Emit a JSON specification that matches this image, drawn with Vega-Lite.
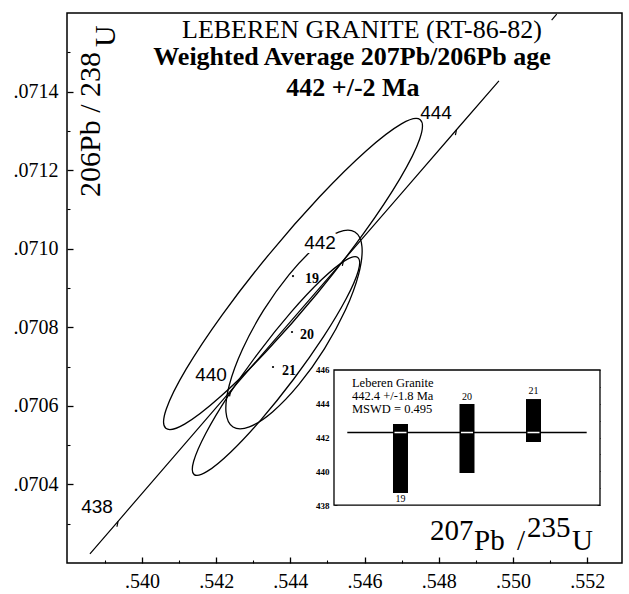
{
  "$schema": "https://vega.github.io/schema/vega-lite/v6.json",
  "autosize": "none",
  "padding": {"left": 67, "top": 13, "right": 7, "bottom": 31},
  "width": 555,
  "height": 550,
  "background": "white",
  "config": {
    "view": {"stroke": "black", "strokeWidth": 1.5},
    "font": "Liberation Serif",
    "scale": {"continuousPadding": 0},
    "axis": {"grid": false, "domain": false, "labelColor": "black", "tickColor": "black", "labelFont": "Liberation Serif"}
  },
  "layer": [
    {
      "data": {"values": [
        {"e":19,"k":0,"x":0.547501,"y":0.0713284},{"e":19,"k":1,"x":0.547487,"y":0.0712793},{"e":19,"k":2,"x":0.546952,"y":0.0711779},{"e":19,"k":3,"x":0.545980,"y":0.0710396},
        {"e":19,"k":4,"x":0.544717,"y":0.0708854},{"e":19,"k":5,"x":0.543355,"y":0.0707389},{"e":19,"k":6,"x":0.542103,"y":0.0706224},{"e":19,"k":7,"x":0.541150,"y":0.0705535},
        {"e":19,"k":8,"x":0.540643,"y":0.0705428},{"e":19,"k":9,"x":0.540657,"y":0.0705919},{"e":19,"k":10,"x":0.541191,"y":0.0706933},{"e":19,"k":11,"x":0.542164,"y":0.0708317},
        {"e":19,"k":12,"x":0.543427,"y":0.0709858},{"e":19,"k":13,"x":0.544789,"y":0.0711323},{"e":19,"k":14,"x":0.546041,"y":0.0712489},{"e":19,"k":15,"x":0.546994,"y":0.0713178},
        {"e":20,"k":0,"x":0.545741,"y":0.0710426},{"e":20,"k":1,"x":0.545931,"y":0.0710051},{"e":20,"k":2,"x":0.545842,"y":0.0709355},{"e":20,"k":3,"x":0.545488,"y":0.0708445},
        {"e":20,"k":4,"x":0.544922,"y":0.0707458},{"e":20,"k":5,"x":0.544231,"y":0.0706545},{"e":20,"k":6,"x":0.543519,"y":0.0705845},{"e":20,"k":7,"x":0.542896,"y":0.0705464},
        {"e":20,"k":8,"x":0.542456,"y":0.0705461},{"e":20,"k":9,"x":0.542266,"y":0.0705836},{"e":20,"k":10,"x":0.542355,"y":0.0706531},{"e":20,"k":11,"x":0.542710,"y":0.0707442},
        {"e":20,"k":12,"x":0.543276,"y":0.0708429},{"e":20,"k":13,"x":0.543967,"y":0.0709342},{"e":20,"k":14,"x":0.544678,"y":0.0710042},{"e":20,"k":15,"x":0.545302,"y":0.0710423},
        {"e":21,"k":0,"x":0.545820,"y":0.0709779},{"e":21,"k":1,"x":0.545833,"y":0.0709440},{"e":21,"k":2,"x":0.545508,"y":0.0708731},{"e":21,"k":3,"x":0.544895,"y":0.0707761},
        {"e":21,"k":4,"x":0.544087,"y":0.0706677},{"e":21,"k":5,"x":0.543207,"y":0.0705645},{"e":21,"k":6,"x":0.542389,"y":0.0704821},{"e":21,"k":7,"x":0.541757,"y":0.0704331},
        {"e":21,"k":8,"x":0.541408,"y":0.0704250},{"e":21,"k":9,"x":0.541394,"y":0.0704589},{"e":21,"k":10,"x":0.541719,"y":0.0705298},{"e":21,"k":11,"x":0.542332,"y":0.0706268},
        {"e":21,"k":12,"x":0.543140,"y":0.0707351},{"e":21,"k":13,"x":0.544020,"y":0.0708384},{"e":21,"k":14,"x":0.544839,"y":0.0709208},{"e":21,"k":15,"x":0.545471,"y":0.0709698}
      ]},
      "mark": {"type": "line", "interpolate": "cardinal-closed", "color": "black", "strokeWidth": 1.3},
      "encoding": {
        "x": {"field": "x", "type": "quantitative", "scale": {"domain": [0.53798, 0.55294], "nice": false, "zero": false},
              "axis": {"orient": "bottom", "values": [0.540, 0.542, 0.544, 0.546, 0.548, 0.550, 0.552], "labelExpr": "replace(format(datum.value, '.3f'), '0.', '.')", "labelFontSize": 20, "tickSize": -6, "tickWidth": 1.3, "labelPadding": 14, "title": null}},
        "y": {"field": "y", "type": "quantitative", "scale": {"domain": [0.0702, 0.0716], "nice": false, "zero": false},
              "axis": {"orient": "left", "values": [0.0704, 0.0706, 0.0708, 0.0710, 0.0712, 0.0714], "labelExpr": "replace(format(datum.value, '.4f'), '0.', '.')", "labelFontSize": 20, "tickSize": -6, "tickWidth": 1.3, "labelPadding": 15, "title": null}},
        "detail": {"field": "e"},
        "order": {"field": "k", "type": "quantitative"}
      }
    },
    {
      "data": {"values": [
        {"seg":1,"t":437.5,"x":0.538598,"y":0.0702232},{"seg":1,"t":438,"x":0.539356,"y":0.0703062},{"seg":1,"t":439,"x":0.540872,"y":0.0704722},
        {"seg":1,"t":440,"x":0.542391,"y":0.0706383},{"seg":1,"t":441,"x":0.543911,"y":0.0708043},{"seg":1,"t":442,"x":0.545432,"y":0.0709705},
        {"seg":1,"t":443,"x":0.546955,"y":0.0711366},{"seg":1,"t":444,"x":0.548479,"y":0.0713028},{"seg":1,"t":444.75,"x":0.549623,"y":0.0714274},
        {"seg":2,"t":445.68,"x":0.551043,"y":0.0715820},{"seg":2,"t":445.77,"x":0.551181,"y":0.0715970}
      ]},
      "mark": {"type": "line", "color": "black", "strokeWidth": 1.2},
      "encoding": {
        "x": {"field": "x", "type": "quantitative", "scale": {"domain": [0.53798, 0.55294], "nice": false, "zero": false},
              "axis": {"orient": "bottom", "values": [0.539, 0.541, 0.543, 0.545, 0.547, 0.549, 0.551], "labels": false, "tickSize": -3, "tickWidth": 1.1, "title": null}},
        "y": {"field": "y", "type": "quantitative", "scale": {"domain": [0.0702, 0.0716], "nice": false, "zero": false},
              "axis": {"orient": "left", "values": [0.0703, 0.0705, 0.0707, 0.0709, 0.0711, 0.0713, 0.0715], "labels": false, "tickSize": -3, "tickWidth": 1.1, "title": null}},
        "detail": {"field": "seg"},
        "order": {"field": "t", "type": "quantitative"}
      }
    },
    {
      "data": {"values": [
        {"t":438,"x":0.539356,"y":0.0703062},{"t":440,"x":0.542391,"y":0.0706383},{"t":442,"x":0.545432,"y":0.0709705},{"t":444,"x":0.548479,"y":0.0713028}
      ]},
      "mark": {"type": "point", "shape": "M0,0L-0.2,1", "size": 120, "filled": false, "stroke": "black", "strokeWidth": 1.2, "opacity": 1},
      "encoding": {
        "x": {"field": "x", "type": "quantitative", "scale": {"domain": [0.53798, 0.55294], "nice": false, "zero": false}, "axis": null},
        "y": {"field": "y", "type": "quantitative", "scale": {"domain": [0.0702, 0.0716], "nice": false, "zero": false}, "axis": null}
      }
    },
    {
      "data": {"values": [
        {"id":19,"x":0.544072,"y":0.0709305},{"id":20,"x":0.544045,"y":0.0707880},{"id":21,"x":0.543533,"y":0.0706989}
      ]},
      "mark": {"type": "circle", "size": 5, "color": "black", "opacity": 1},
      "encoding": {
        "x": {"field": "x", "type": "quantitative", "scale": {"domain": [0.53798, 0.55294], "nice": false, "zero": false}, "axis": null},
        "y": {"field": "y", "type": "quantitative", "scale": {"domain": [0.0702, 0.0716], "nice": false, "zero": false}, "axis": null}
      }
    },
    {
      "data": {"values": [
        {"label":"442","x":0.544800,"y":0.0710145}
      ]},
      "mark": {"type": "text", "font": "Liberation Sans", "fontSize": 19, "fill": "white", "stroke": "white", "strokeWidth": 8, "align": "center", "baseline": "middle"},
      "encoding": {
        "x": {"field": "x", "type": "quantitative", "scale": {"domain": [0.53798, 0.55294], "nice": false, "zero": false}, "axis": null},
        "y": {"field": "y", "type": "quantitative", "scale": {"domain": [0.0702, 0.0716], "nice": false, "zero": false}, "axis": null},
        "text": {"field": "label"}
      }
    },
    {
      "data": {"values": [
        {"label":"438","x":0.538789,"y":0.0703425},{"label":"440","x":0.541862,"y":0.0706785},
        {"label":"442","x":0.544800,"y":0.0710145},{"label":"444","x":0.547926,"y":0.0713455}
      ]},
      "mark": {"type": "text", "font": "Liberation Sans", "fontSize": 19, "color": "black", "align": "center", "baseline": "middle"},
      "encoding": {
        "x": {"field": "x", "type": "quantitative", "scale": {"domain": [0.53798, 0.55294], "nice": false, "zero": false}, "axis": null},
        "y": {"field": "y", "type": "quantitative", "scale": {"domain": [0.0702, 0.0716], "nice": false, "zero": false}, "axis": null},
        "text": {"field": "label"}
      }
    },
    {
      "data": {"values": [
        {"label":"19","x":0.544584,"y":0.0709229},{"label":"20","x":0.544449,"y":0.0707803},{"label":"21","x":0.543964,"y":0.0706887}
      ]},
      "mark": {"type": "text", "font": "Liberation Serif", "fontSize": 14, "fontWeight": "bold", "color": "black", "align": "center", "baseline": "middle"},
      "encoding": {
        "x": {"field": "x", "type": "quantitative", "scale": {"domain": [0.53798, 0.55294], "nice": false, "zero": false}, "axis": null},
        "y": {"field": "y", "type": "quantitative", "scale": {"domain": [0.0702, 0.0716], "nice": false, "zero": false}, "axis": null},
        "text": {"field": "label"}
      }
    },
    {
      "data": {"values": [
        {"label":"LEBEREN GRANITE (RT-86-82)","x":0.545932,"y":0.0715364}
      ]},
      "mark": {"type": "text", "font": "Liberation Serif", "fontSize": 26, "color": "black", "align": "center", "baseline": "alphabetic"},
      "encoding": {
        "x": {"field": "x", "type": "quantitative", "scale": {"domain": [0.53798, 0.55294], "nice": false, "zero": false}, "axis": null},
        "y": {"field": "y", "type": "quantitative", "scale": {"domain": [0.0702, 0.0716], "nice": false, "zero": false}, "axis": null},
        "text": {"field": "label"}
      }
    },
    {
      "data": {"values": [
        {"label":"Weighted Average 207Pb/206Pb age","x":0.545662,"y":0.0714676},
        {"label":"442 +/-2 Ma","x":0.545689,"y":0.0713887}
      ]},
      "mark": {"type": "text", "font": "Liberation Serif", "fontSize": 26, "fontWeight": "bold", "color": "black", "align": "center", "baseline": "alphabetic"},
      "encoding": {
        "x": {"field": "x", "type": "quantitative", "scale": {"domain": [0.53798, 0.55294], "nice": false, "zero": false}, "axis": null},
        "y": {"field": "y", "type": "quantitative", "scale": {"domain": [0.0702, 0.0716], "nice": false, "zero": false}, "axis": null},
        "text": {"field": "label"}
      }
    },
    {
      "data": {"values": [
        {"label":"206Pb / 238","x":0.538870,"y":0.0711316},
        {"label":"U","x":0.539274,"y":0.0715135}
      ]},
      "mark": {"type": "text", "font": "Liberation Serif", "fontSize": 30, "color": "black", "angle": 270, "align": "left", "baseline": "alphabetic"},
      "encoding": {
        "x": {"field": "x", "type": "quantitative", "scale": {"domain": [0.53798, 0.55294], "nice": false, "zero": false}, "axis": null},
        "y": {"field": "y", "type": "quantitative", "scale": {"domain": [0.0702, 0.0716], "nice": false, "zero": false}, "axis": null},
        "text": {"field": "label"}
      }
    },
    {
      "data": {"values": [
        {"label":"207","x":0.547765,"y":0.0702585},
        {"label":"Pb","x":0.548951,"y":0.0702331},
        {"label":"/","x":0.550110,"y":0.0702331},
        {"label":"235","x":0.550379,"y":0.0702662},
        {"label":"U","x":0.551592,"y":0.0702331}
      ]},
      "mark": {"type": "text", "font": "Liberation Serif", "fontSize": 29, "color": "black", "align": "left", "baseline": "alphabetic"},
      "encoding": {
        "x": {"field": "x", "type": "quantitative", "scale": {"domain": [0.53798, 0.55294], "nice": false, "zero": false}, "axis": null},
        "y": {"field": "y", "type": "quantitative", "scale": {"domain": [0.0702, 0.0716], "nice": false, "zero": false}, "axis": null},
        "text": {"field": "label"}
      }
    },
    {
      "data": {"values": [{"x1": 18, "x2": 22, "y1": 438, "y2": 446}]},
      "mark": {"type": "rect", "fill": "white", "stroke": "black", "strokeWidth": 1.3},
      "encoding": {
        "x": {"field": "x1", "type": "quantitative", "scale": {"domain": [13.985, 22.331], "nice": false, "zero": false}, "axis": null},
        "x2": {"field": "x2"},
        "y": {"field": "y1", "type": "quantitative", "scale": {"domain": [434.58, 467.12], "nice": false, "zero": false},
              "axis": {"orient": "left", "offset": -267, "values": [438, 439, 440, 441, 442, 443, 444, 445, 446], "labelExpr": "datum.value % 2 == 0 ? datum.label : ''", "labelFontSize": 9, "labelFontWeight": "bold", "tickSize": -3, "labelPadding": 8, "title": null, "domain": false, "grid": false}},
        "y2": {"field": "y2"}
      }
    },
    {
      "data": {"values": [{"x1": 18.2, "x2": 21.8, "y": 442.3}]},
      "mark": {"type": "rule", "color": "black", "strokeWidth": 1.3},
      "encoding": {
        "x": {"field": "x1", "type": "quantitative", "scale": {"domain": [13.985, 22.331], "nice": false, "zero": false}, "axis": null},
        "x2": {"field": "x2"},
        "y": {"field": "y", "type": "quantitative", "scale": {"domain": [434.58, 467.12], "nice": false, "zero": false},
              "axis": {"orient": "right", "offset": -22, "values": [438, 439, 440, 441, 442, 443, 444, 445, 446], "labels": false, "tickSize": -3, "title": null, "domain": false, "grid": false}}
      }
    },
    {
      "data": {"values": [
        {"id": 19, "lo": 438.72, "hi": 442.8},
        {"id": 20, "lo": 439.91, "hi": 443.99},
        {"id": 21, "lo": 441.74, "hi": 444.28}
      ]},
      "mark": {"type": "bar", "size": 15, "color": "black"},
      "encoding": {
        "x": {"field": "id", "type": "quantitative", "scale": {"domain": [13.985, 22.331], "nice": false, "zero": false}, "axis": null},
        "y": {"field": "lo", "type": "quantitative", "scale": {"domain": [434.58, 467.12], "nice": false, "zero": false}, "axis": null},
        "y2": {"field": "hi"}
      }
    },
    {
      "data": {"values": [{"id": 19}, {"id": 20}, {"id": 21}]},
      "mark": {"type": "tick", "orient": "horizontal", "color": "white", "size": 12, "thickness": 1.5, "opacity": 1},
      "encoding": {
        "x": {"field": "id", "type": "quantitative", "scale": {"domain": [13.985, 22.331], "nice": false, "zero": false}, "axis": null},
        "y": {"datum": 442.3, "type": "quantitative", "scale": {"domain": [434.58, 467.12], "nice": false, "zero": false}, "axis": null}
      }
    },
    {
      "data": {"values": [
        {"id": 19, "label": "19", "y": 438.37},
        {"id": 20, "label": "20", "y": 444.43},
        {"id": 21, "label": "21", "y": 444.73}
      ]},
      "mark": {"type": "text", "font": "Liberation Serif", "fontSize": 10, "color": "black", "align": "center", "baseline": "middle"},
      "encoding": {
        "x": {"field": "id", "type": "quantitative", "scale": {"domain": [13.985, 22.331], "nice": false, "zero": false}, "axis": null},
        "y": {"field": "y", "type": "quantitative", "scale": {"domain": [434.58, 467.12], "nice": false, "zero": false}, "axis": null},
        "text": {"field": "label"}
      }
    },
    {
      "data": {"values": [
        {"x": 18.27, "y": 445.25, "label": "Leberen Granite"},
        {"x": 18.27, "y": 444.45, "label": "442.4 +/-1.8 Ma"},
        {"x": 18.27, "y": 443.7, "label": "MSWD = 0.495"}
      ]},
      "mark": {"type": "text", "font": "Liberation Serif", "fontSize": 12.5, "color": "black", "align": "left", "baseline": "middle"},
      "encoding": {
        "x": {"field": "x", "type": "quantitative", "scale": {"domain": [13.985, 22.331], "nice": false, "zero": false}, "axis": null},
        "y": {"field": "y", "type": "quantitative", "scale": {"domain": [434.58, 467.12], "nice": false, "zero": false}, "axis": null},
        "text": {"field": "label"}
      }
    }
  ],
  "resolve": {"scale": {"x": "independent", "y": "independent"}, "axis": {"x": "independent", "y": "independent"}}
}
